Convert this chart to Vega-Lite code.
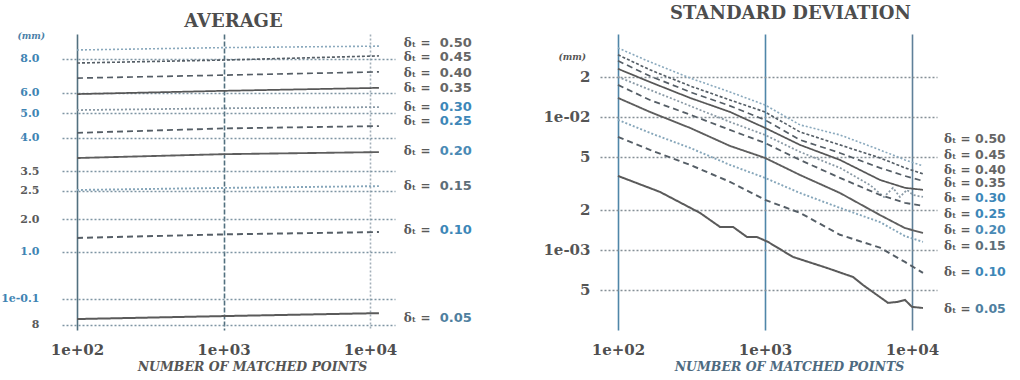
{
"$schema": "https://vega.github.io/schema/vega-lite/v6.json",
"background": "white",
"padding": {"left": 0, "top": 5, "right": 0, "bottom": 0},
"bounds": "flush",
"spacing": 205,
"config": {"view": {"stroke": null}, "font": "DejaVu Serif", "axis": {"ticks": false, "domain": false}},
"datasets": {
"avg": [
{"delta": "0.50", "n": 100, "level": 94.6}, {"delta": "0.50", "n": 1000, "level": 95.4}, {"delta": "0.50", "n": 11500, "level": 95.9},
{"delta": "0.45", "n": 100, "level": 90.2}, {"delta": "0.45", "n": 1000, "level": 91.2}, {"delta": "0.45", "n": 11500, "level": 92.6},
{"delta": "0.40", "n": 100, "level": 85.1}, {"delta": "0.40", "n": 1000, "level": 86.1}, {"delta": "0.40", "n": 11500, "level": 87.2},
{"delta": "0.35", "n": 100, "level": 79.7}, {"delta": "0.35", "n": 1000, "level": 80.8}, {"delta": "0.35", "n": 11500, "level": 81.8},
{"delta": "0.30", "n": 100, "level": 74.3}, {"delta": "0.30", "n": 1000, "level": 74.9}, {"delta": "0.30", "n": 11500, "level": 75.3},
{"delta": "0.25", "n": 100, "level": 66.6}, {"delta": "0.25", "n": 1000, "level": 68.1}, {"delta": "0.25", "n": 11500, "level": 68.9},
{"delta": "0.20", "n": 100, "level": 58.1}, {"delta": "0.20", "n": 1000, "level": 59.4}, {"delta": "0.20", "n": 11500, "level": 60.1},
{"delta": "0.15", "n": 100, "level": 47.3}, {"delta": "0.15", "n": 1000, "level": 48.0}, {"delta": "0.15", "n": 11500, "level": 48.6},
{"delta": "0.10", "n": 100, "level": 31.1}, {"delta": "0.10", "n": 1000, "level": 32.3}, {"delta": "0.10", "n": 11500, "level": 33.1},
{"delta": "0.05", "n": 100, "level": 3.7}, {"delta": "0.05", "n": 1000, "level": 4.7}, {"delta": "0.05", "n": 11500, "level": 5.7}
],
"avgLabels": [
{"delta": "0.50", "n": 17000, "level": 97.0},
{"delta": "0.45", "n": 17000, "level": 92.2},
{"delta": "0.40", "n": 17000, "level": 86.8},
{"delta": "0.35", "n": 17000, "level": 81.8},
{"delta": "0.30", "n": 17000, "level": 75.3},
{"delta": "0.25", "n": 17000, "level": 70.6},
{"delta": "0.20", "n": 17000, "level": 60.5},
{"delta": "0.15", "n": 17000, "level": 48.6},
{"delta": "0.10", "n": 17000, "level": 33.8},
{"delta": "0.05", "n": 17000, "level": 4.1}
],
"sd": [
{"delta": "0.50", "n": 100, "sd": 0.0330}, {"delta": "0.50", "n": 165, "sd": 0.0259}, {"delta": "0.50", "n": 309, "sd": 0.0196}, {"delta": "0.50", "n": 578, "sd": 0.0154}, {"delta": "0.50", "n": 1000, "sd": 0.0123}, {"delta": "0.50", "n": 1730, "sd": 0.00871}, {"delta": "0.50", "n": 3236, "sd": 0.00732}, {"delta": "0.50", "n": 6053, "sd": 0.00565}, {"delta": "0.50", "n": 8960, "sd": 0.00475}, {"delta": "0.50", "n": 11880, "sd": 0.00428},
{"delta": "0.45", "n": 100, "sd": 0.0293}, {"delta": "0.45", "n": 165, "sd": 0.0226}, {"delta": "0.45", "n": 309, "sd": 0.0171}, {"delta": "0.45", "n": 578, "sd": 0.0134}, {"delta": "0.45", "n": 1000, "sd": 0.0109}, {"delta": "0.45", "n": 1730, "sd": 0.00771}, {"delta": "0.45", "n": 3236, "sd": 0.00616}, {"delta": "0.45", "n": 6053, "sd": 0.00492}, {"delta": "0.45", "n": 8960, "sd": 0.00414}, {"delta": "0.45", "n": 11880, "sd": 0.00373},
{"delta": "0.40", "n": 100, "sd": 0.0264}, {"delta": "0.40", "n": 165, "sd": 0.0203}, {"delta": "0.40", "n": 309, "sd": 0.0154}, {"delta": "0.40", "n": 578, "sd": 0.0121}, {"delta": "0.40", "n": 1000, "sd": 0.00949}, {"delta": "0.40", "n": 1730, "sd": 0.00672}, {"delta": "0.40", "n": 3236, "sd": 0.00536}, {"delta": "0.40", "n": 6053, "sd": 0.00414}, {"delta": "0.40", "n": 8960, "sd": 0.00360}, {"delta": "0.40", "n": 11880, "sd": 0.00330},
{"delta": "0.35", "n": 100, "sd": 0.0230}, {"delta": "0.35", "n": 165, "sd": 0.0183}, {"delta": "0.35", "n": 309, "sd": 0.0139}, {"delta": "0.35", "n": 578, "sd": 0.0109}, {"delta": "0.35", "n": 1000, "sd": 0.00827}, {"delta": "0.35", "n": 1730, "sd": 0.00616}, {"delta": "0.35", "n": 3236, "sd": 0.00475}, {"delta": "0.35", "n": 6053, "sd": 0.00336}, {"delta": "0.35", "n": 8960, "sd": 0.00293}, {"delta": "0.35", "n": 11880, "sd": 0.00283},
{"delta": "0.30", "n": 100, "sd": 0.0200}, {"delta": "0.30", "n": 165, "sd": 0.0160}, {"delta": "0.30", "n": 309, "sd": 0.0121}, {"delta": "0.30", "n": 578, "sd": 0.00917}, {"delta": "0.30", "n": 1000, "sd": 0.00732}, {"delta": "0.30", "n": 1730, "sd": 0.00546}, {"delta": "0.30", "n": 3236, "sd": 0.00414}, {"delta": "0.30", "n": 5176, "sd": 0.00308}, {"delta": "0.30", "n": 6450, "sd": 0.00250}, {"delta": "0.30", "n": 7430, "sd": 0.00293}, {"delta": "0.30", "n": 8280, "sd": 0.00250}, {"delta": "0.30", "n": 9250, "sd": 0.00283}, {"delta": "0.30", "n": 10160, "sd": 0.00259}, {"delta": "0.30", "n": 11880, "sd": 0.00250},
{"delta": "0.25", "n": 100, "sd": 0.0174}, {"delta": "0.25", "n": 165, "sd": 0.0134}, {"delta": "0.25", "n": 309, "sd": 0.0104}, {"delta": "0.25", "n": 578, "sd": 0.00798}, {"delta": "0.25", "n": 1000, "sd": 0.00637}, {"delta": "0.25", "n": 1730, "sd": 0.00475}, {"delta": "0.25", "n": 3236, "sd": 0.00348}, {"delta": "0.25", "n": 6053, "sd": 0.00259}, {"delta": "0.25", "n": 8960, "sd": 0.00226}, {"delta": "0.25", "n": 11880, "sd": 0.00214},
{"delta": "0.20", "n": 100, "sd": 0.0139}, {"delta": "0.20", "n": 165, "sd": 0.0109}, {"delta": "0.20", "n": 309, "sd": 0.00827}, {"delta": "0.20", "n": 578, "sd": 0.00605}, {"delta": "0.20", "n": 1000, "sd": 0.00492}, {"delta": "0.20", "n": 1730, "sd": 0.00366}, {"delta": "0.20", "n": 3236, "sd": 0.00268}, {"delta": "0.20", "n": 6053, "sd": 0.00183}, {"delta": "0.20", "n": 8960, "sd": 0.00146}, {"delta": "0.20", "n": 11880, "sd": 0.00134},
{"delta": "0.15", "n": 100, "sd": 0.00949}, {"delta": "0.15", "n": 165, "sd": 0.00758}, {"delta": "0.15", "n": 309, "sd": 0.00585}, {"delta": "0.15", "n": 578, "sd": 0.00436}, {"delta": "0.15", "n": 1000, "sd": 0.00348}, {"delta": "0.15", "n": 1730, "sd": 0.00268}, {"delta": "0.15", "n": 3236, "sd": 0.00207}, {"delta": "0.15", "n": 6053, "sd": 0.00162}, {"delta": "0.15", "n": 8960, "sd": 0.00127}, {"delta": "0.15", "n": 11880, "sd": 0.00115},
{"delta": "0.10", "n": 100, "sd": 0.00707}, {"delta": "0.10", "n": 165, "sd": 0.00565}, {"delta": "0.10", "n": 309, "sd": 0.00436}, {"delta": "0.10", "n": 578, "sd": 0.00325}, {"delta": "0.10", "n": 1000, "sd": 0.00238}, {"delta": "0.10", "n": 1730, "sd": 0.00190}, {"delta": "0.10", "n": 3236, "sd": 0.00130}, {"delta": "0.10", "n": 6053, "sd": 0.00104}, {"delta": "0.10", "n": 8960, "sd": 0.000812}, {"delta": "0.10", "n": 11880, "sd": 0.000672},
{"delta": "0.05", "n": 100, "sd": 0.00360}, {"delta": "0.05", "n": 193, "sd": 0.00273}, {"delta": "0.05", "n": 361, "sd": 0.00190}, {"delta": "0.05", "n": 494, "sd": 0.00149}, {"delta": "0.05", "n": 606, "sd": 0.00149}, {"delta": "0.05", "n": 755, "sd": 0.00125}, {"delta": "0.05", "n": 883, "sd": 0.00125}, {"delta": "0.05", "n": 1047, "sd": 0.00115}, {"delta": "0.05", "n": 1549, "sd": 0.000886}, {"delta": "0.05", "n": 2641, "sd": 0.000732}, {"delta": "0.05", "n": 3970, "sd": 0.000626}, {"delta": "0.05", "n": 4643, "sd": 0.000545}, {"delta": "0.05", "n": 6871, "sd": 0.000400}, {"delta": "0.05", "n": 7910, "sd": 0.000406}, {"delta": "0.05", "n": 8960, "sd": 0.000421}, {"delta": "0.05", "n": 10000, "sd": 0.000373}, {"delta": "0.05", "n": 11880, "sd": 0.000366}
],
"sdLabels": [
{"delta": "0.50", "n": 16500, "sd": 0.00683},
{"delta": "0.45", "n": 16500, "sd": 0.00518},
{"delta": "0.40", "n": 16500, "sd": 0.00400},
{"delta": "0.35", "n": 16500, "sd": 0.00319},
{"delta": "0.30", "n": 16500, "sd": 0.00246},
{"delta": "0.25", "n": 16500, "sd": 0.00187},
{"delta": "0.20", "n": 16500, "sd": 0.00141},
{"delta": "0.15", "n": 16500, "sd": 0.00107},
{"delta": "0.10", "n": 16500, "sd": 0.000683},
{"delta": "0.05", "n": 16500, "sd": 0.000360}
]
},
"hconcat": [
{
"width": 333, "height": 296,
"title": {"text": "AVERAGE", "font": "DejaVu Serif", "fontSize": 18, "fontWeight": "bold", "color": "#4d4d4d", "dx": 5, "offset": 0},
"layer": [
{
"data": {"name": "avg"},
"mark": {"type": "line", "strokeCap": "butt"},
"encoding": {
"x": {"field": "n", "type": "quantitative", "scale": {"type": "log", "domain": [79, 14800], "nice": false},
"axis": {"values": [100, 1000, 10000], "labelExpr": "datum.value == 100 ? '1e+02' : datum.value == 1000 ? '1e+03' : '1e+04'",
"labelFont": "DejaVu Serif", "labelFontWeight": "bold", "labelFontSize": 15, "labelColor": "#4f4f4f", "labelPadding": 12,
"title": "NUMBER OF MATCHED POINTS", "titleFont": "DejaVu Serif", "titleFontStyle": "italic", "titleFontWeight": "bold", "titleFontSize": 12.5, "titleColor": "#555555", "titlePadding": 3, "titleX": 190,
"grid": true,
"gridColor": {"condition": {"test": "datum.value == 10000", "value": "#a3b0b9"}, "value": "#52707f"},
"gridDash": {"condition": [{"test": "datum.value == 1000", "value": [5, 2]}, {"test": "datum.value == 10000", "value": [2, 2]}], "value": [1, 0]},
"gridWidth": 1.6, "gridOpacity": 1}},
"y": {"field": "level", "type": "quantitative", "scale": {"domain": [0, 100], "nice": false, "zero": false},
"axis": {"values": [91.6, 80.1, 73.3, 64.9, 53.7, 47, 37.5, 26.4, 10.5, 1.7], "tickCount": 20,
"labelExpr": "datum.value == 91.6 ? '8.0' : datum.value == 80.1 ? '6.0' : datum.value == 73.3 ? '5.0' : datum.value == 64.9 ? '4.0' : datum.value == 53.7 ? '3.5' : datum.value == 47 ? '2.5' : datum.value == 37.5 ? '2.0' : datum.value == 26.4 ? '1.0' : datum.value == 10.5 ? '1e-0.1' : '8'",
"labelFont": "DejaVu Serif", "labelFontWeight": "bold", "labelFontSize": 11, "labelPadding": 23, "labelOverlap": false,
"labelColor": {"condition": {"test": "datum.value > 60 || datum.value == 26.4 || datum.value == 10.5", "value": "#3f84b3"}, "value": "#5a5a5a"},
"grid": true, "gridColor": "#7f95a3", "gridDash": [2, 2], "gridWidth": 1.3, "gridOpacity": 1,
"title": "(mm)", "titleAngle": 0, "titleFont": "DejaVu Serif", "titleFontStyle": "italic", "titleFontWeight": "bold", "titleFontSize": 9, "titleColor": "#4a7fa8", "titleX": -45, "titleY": 1, "titleAlign": "left", "titleBaseline": "middle"}},
"detail": {"field": "delta"},
"stroke": {"field": "delta", "type": "nominal", "legend": null, "scale": {"domain": ["0.05", "0.10", "0.15", "0.20", "0.25", "0.30", "0.35", "0.40", "0.45", "0.50"], "range": ["#5a5a5a", "#555e66", "#86a6ba", "#5e5e5e", "#555e66", "#8a9aa6", "#575757", "#555e66", "#555e66", "#8aa9bd"]}},
"strokeDash": {"field": "delta", "type": "nominal", "legend": null, "scale": {"domain": ["0.05", "0.10", "0.15", "0.20", "0.25", "0.30", "0.35", "0.40", "0.45", "0.50"], "range": [[1, 0], [6, 4], [2, 2], [1, 0], [6, 4], [2, 2], [1, 0], [6, 4], [3, 2], [2, 2]]}},
"strokeWidth": {"field": "delta", "type": "ordinal", "legend": null, "scale": {"domain": ["0.05", "0.10", "0.15", "0.20", "0.25", "0.30", "0.35", "0.40", "0.45", "0.50"], "range": [2, 1.6, 1.3, 1.8, 1.6, 1.3, 2, 1.6, 1.6, 1.3]}}
}
},
{
"data": {"name": "avgLabels"},
"mark": {"type": "text", "align": "left", "baseline": "middle", "font": "DejaVu Serif", "fontWeight": "bold", "fontSize": 12, "fill": "#5a5a5a"},
"encoding": {
"x": {"field": "n", "type": "quantitative"},
"y": {"field": "level", "type": "quantitative"},
"text": {"value": "δₜ ="}
}
},
{
"data": {"name": "avgLabels"},
"mark": {"type": "text", "align": "left", "baseline": "middle", "font": "DejaVu Sans", "fontWeight": "bold", "fontSize": 13, "dx": 36},
"encoding": {
"x": {"field": "n", "type": "quantitative"},
"y": {"field": "level", "type": "quantitative"},
"text": {"field": "delta"},
"fill": {"field": "delta", "type": "nominal", "legend": null, "scale": {"domain": ["0.05", "0.10", "0.15", "0.20", "0.25", "0.30", "0.35", "0.40", "0.45", "0.50"], "range": ["#4f7f9f", "#3d87b8", "#5e6e78", "#4a8ab5", "#3d87b8", "#3d87b8", "#666666", "#666666", "#666666", "#666666"]}}
}
}
]
},
{
"width": 337, "height": 296,
"title": {"text": "STANDARD DEVIATION", "font": "DejaVu Serif", "fontSize": 18, "fontWeight": "bold", "color": "#4d4d4d", "dx": 22, "offset": 11},
"layer": [
{
"data": {"name": "sd"},
"mark": {"type": "line", "strokeCap": "butt"},
"encoding": {
"x": {"field": "n", "type": "quantitative", "scale": {"type": "log", "domain": [75.5, 14800], "nice": false},
"axis": {"values": [100, 1000, 10000], "labelExpr": "datum.value == 100 ? '1e+02' : datum.value == 1000 ? '1e+03' : '1e+04'",
"labelFont": "DejaVu Serif", "labelFontWeight": "bold", "labelFontSize": 15, "labelColor": "#4f4f4f", "labelPadding": 12,
"title": "NUMBER OF MATCHED POINTS", "titleFont": "DejaVu Serif", "titleFontStyle": "italic", "titleFontWeight": "bold", "titleFontSize": 12.5, "titleColor": "#4d6a80", "titlePadding": 3, "titleX": 189,
"grid": true,
"gridColor": {"condition": {"test": "datum.value == 10000", "value": "#5f8099"}, "value": "#4f86a8"},
"gridWidth": 1.6, "gridOpacity": 1}},
"y": {"field": "sd", "type": "quantitative", "scale": {"type": "log", "domain": [0.00025, 0.042], "nice": false},
"axis": {"values": [0.02, 0.01, 0.005, 0.002, 0.001, 0.0005], "tickCount": 20,
"labelExpr": "datum.value == 0.02 ? '2' : datum.value == 0.01 ? '1e-02' : datum.value == 0.005 ? '5' : datum.value == 0.002 ? '2' : datum.value == 0.001 ? '1e-03' : '5'",
"labelFont": "DejaVu Serif", "labelFontWeight": "bold", "labelFontSize": 15, "labelPadding": 10, "labelColor": "#555555", "labelOverlap": false,
"grid": true, "gridColor": "#858f96", "gridDash": [2, 2], "gridWidth": 1.3, "gridOpacity": 1,
"title": "(mm)", "titleAngle": 0, "titleFont": "DejaVu Serif", "titleFontStyle": "italic", "titleFontWeight": "bold", "titleFontSize": 9, "titleColor": "#555555", "titleX": -42, "titleY": 22, "titleAlign": "left", "titleBaseline": "middle"}},
"detail": {"field": "delta"},
"stroke": {"field": "delta", "type": "nominal", "legend": null, "scale": {"domain": ["0.05", "0.10", "0.15", "0.20", "0.25", "0.30", "0.35", "0.40", "0.45", "0.50"], "range": ["#666666", "#5b7f97", "#8fb6cc", "#6a6a6a", "#3f8dba", "#5f8ba5", "#6b6b6b", "#3f8dba", "#59636b", "#a0b6c4"]}},
"strokeDash": {"field": "delta", "type": "nominal", "legend": null, "scale": {"domain": ["0.05", "0.10", "0.15", "0.20", "0.25", "0.30", "0.35", "0.40", "0.45", "0.50"], "range": [[1, 0], [6, 4], [2, 3], [1, 0], [6, 4], [1, 0], [1, 0], [5, 4], [6, 3], [2, 2]]}},
"strokeWidth": {"field": "delta", "type": "ordinal", "legend": null, "scale": {"domain": ["0.05", "0.10", "0.15", "0.20", "0.25", "0.30", "0.35", "0.40", "0.45", "0.50"], "range": [1.8, 1.6, 1.4, 1.8, 1.6, 1.6, 1.8, 1.6, 1.6, 1.4]}}
}
},
{
"data": {"name": "sdLabels"},
"mark": {"type": "text", "align": "left", "baseline": "middle", "font": "DejaVu Serif", "fontWeight": "bold", "fontSize": 12, "fill": "#5a5a5a"},
"encoding": {
"x": {"field": "n", "type": "quantitative"},
"y": {"field": "sd", "type": "quantitative"},
"text": {"value": "δₜ ="}
}
},
{
"data": {"name": "sdLabels"},
"mark": {"type": "text", "align": "left", "baseline": "middle", "font": "DejaVu Sans", "fontWeight": "bold", "fontSize": 12.5, "dx": 31},
"encoding": {
"x": {"field": "n", "type": "quantitative"},
"y": {"field": "sd", "type": "quantitative"},
"text": {"field": "delta"},
"fill": {"field": "delta", "type": "nominal", "legend": null, "scale": {"domain": ["0.05", "0.10", "0.15", "0.20", "0.25", "0.30", "0.35", "0.40", "0.45", "0.50"], "range": ["#3d87b8", "#3d87b8", "#666666", "#3d87b8", "#3d87b8", "#3d87b8", "#666666", "#3d87b8", "#666666", "#3d87b8"]}}
}
}
]
}
]
}
